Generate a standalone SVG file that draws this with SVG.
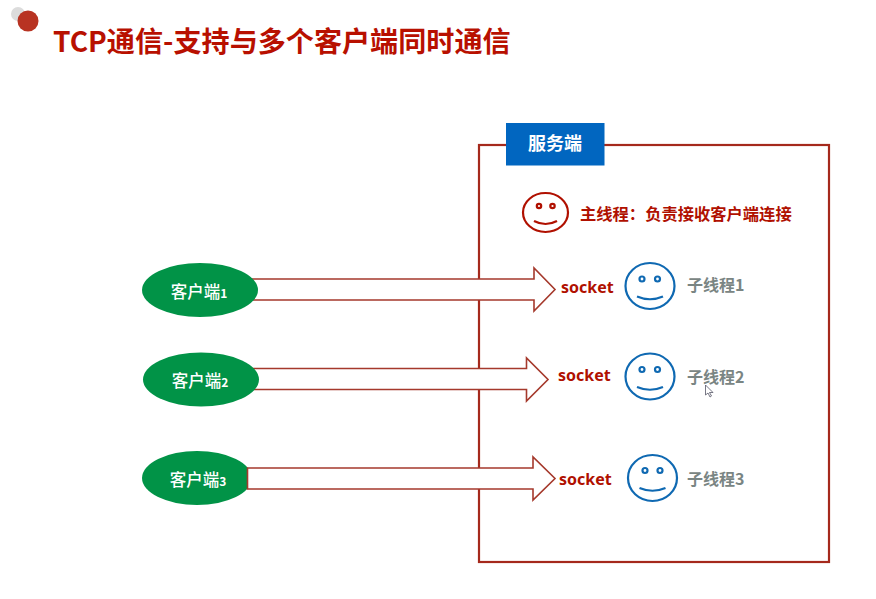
<svg xmlns="http://www.w3.org/2000/svg" width="876" height="599" viewBox="0 0 876 599">
<style>
text{font-family:"Noto Sans CJK SC","Noto Sans",sans-serif;font-weight:700}
.client{fill:#fff;font-size:16.500px;font-weight:500;text-anchor:middle}
.client tspan{font-size:12px;font-weight:700}
.arrow{fill:#fff;stroke:#a5392c;stroke-width:1.600}
.sock{fill:#b01000;font-size:16px;font-family:"Noto Sans",sans-serif}
.thread{fill:#7a8583;font-size:16px}
.fb{fill:none;stroke:#0f69b2;stroke-width:2.200}
.fr{fill:none;stroke:#b01000;stroke-width:2.200}
</style>
<rect width="876" height="599" fill="#fff"/>
<g id="title">
<circle cx="18" cy="14" r="7" fill="#dcdcdc"/>
<circle cx="28" cy="21" r="10.500" fill="#b83322"/>
<text x="53" y="52" font-size="28.100" fill="#b81000">TCP通信-支持与多个客户端同时通信</text>
</g>
<g id="server">
<rect x="479" y="145" width="350" height="417" fill="#fff" stroke="#a5291c" stroke-width="2.200"/>
<rect x="506" y="123" width="98.500" height="42.500" fill="#0166c0"/>
<text x="555" y="150" font-size="18" fill="#fff" text-anchor="middle">服务端</text>
</g>
<g id="client3"><ellipse cx="197" cy="478" rx="55" ry="27" fill="#019347"/><text class="client" x="198" y="486">客户端<tspan>3</tspan></text></g>
<g id="connectors">
<path class="arrow" d="M250 279H534V268L555 289.500L534 311V300H250"/>
<path class="arrow" d="M250 368.500H526.500V358L548 379.500L526.500 401V389.500H250"/>
<path class="arrow" d="M247.500 468H533V457L555 478.500L533 500V489H247.500Z"/>
</g>
<g id="client1"><ellipse cx="200" cy="290" rx="58" ry="27" fill="#019347"/><text class="client" x="199" y="298">客户端<tspan>1</tspan></text></g>
<g id="client2"><ellipse cx="201" cy="379.500" rx="58" ry="27" fill="#019347"/><text class="client" x="200" y="387">客户端<tspan>2</tspan></text></g>
<g id="main-thread">
<ellipse class="fr" cx="545.500" cy="212.500" rx="22.500" ry="19.500"/>
<circle class="fr" cx="539" cy="206" r="2.200"/><circle class="fr" cx="552.500" cy="206" r="2.200"/>
<path class="fr" d="M534 221Q545.500 227 557 221"/>
<text x="580" y="220" font-size="16.300" fill="#b01000">主线程：负责接收客户端连接</text>
</g>
<g id="thread1">
<text class="sock" x="561" y="293">socket</text>
<ellipse class="fb" cx="650" cy="286" rx="24.500" ry="23"/>
<circle class="fb" cx="642" cy="279" r="2.500"/><circle class="fb" cx="657.500" cy="279" r="2.500"/>
<path class="fb" d="M637 296.500Q650 302 663 296.500"/>
<text class="thread" x="687" y="291">子线程1</text>
</g>
<g id="thread2">
<text class="sock" x="558" y="381">socket</text>
<ellipse class="fb" cx="650" cy="376.500" rx="24.500" ry="23"/>
<circle class="fb" cx="642" cy="369.500" r="2.500"/><circle class="fb" cx="657.500" cy="369.500" r="2.500"/>
<path class="fb" d="M637 387Q650 392.500 663 387"/>
<text class="thread" x="687" y="383">子线程2</text>
<path d="M705.500 385V395L708 393L710 397L711.500 396L709.500 392.500H713Z" fill="#fff" stroke="#556" stroke-width="0.800"/>
</g>
<g id="thread3">
<text class="sock" x="559" y="485">socket</text>
<ellipse class="fb" cx="652.500" cy="478" rx="24.500" ry="23"/>
<circle class="fb" cx="645" cy="470.500" r="2.500"/><circle class="fb" cx="660" cy="470.500" r="2.500"/>
<path class="fb" d="M639.500 488Q652.500 493.500 665.500 488"/>
<text class="thread" x="687" y="485">子线程3</text>
</g>
</svg>
